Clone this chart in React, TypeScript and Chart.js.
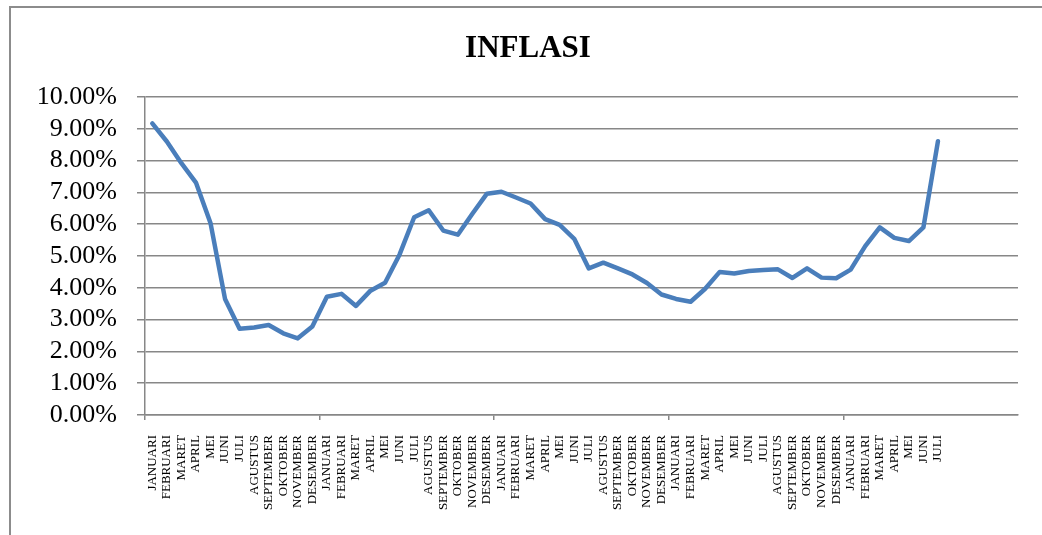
import React, { useEffect, useRef } from "react";
import { Chart, registerables } from "chart.js";

Chart.register(...registerables);

const MONTHS = [
  "JANUARI", "FEBRUARI", "MARET", "APRIL", "MEI", "JUNI",
  "JULI", "AGUSTUS", "SEPTEMBER", "OKTOBER", "NOVEMBER", "DESEMBER",
];

// 4 full years + Jan..Jul, then 5 empty categories (axis runs 5 x 12)
const categories: string[] = [
  ...MONTHS, ...MONTHS, ...MONTHS, ...MONTHS,
  "JANUARI", "FEBRUARI", "MARET", "APRIL", "MEI", "JUNI", "JULI",
  "", "", "", "", "",
];

const year1 = [9.17, 8.6, 7.92, 7.31, 6.04, 3.65, 2.71, 2.75, 2.83, 2.57, 2.41, 2.78];
const year2 = [3.72, 3.81, 3.43, 3.91, 4.16, 5.05, 6.22, 6.44, 5.8, 5.67, 6.33, 6.96];
const year3 = [7.02, 6.84, 6.65, 6.16, 5.98, 5.54, 4.61, 4.79, 4.61, 4.42, 4.15, 3.79];
const year4 = [3.65, 3.56, 3.97, 4.5, 4.45, 4.53, 4.56, 4.58, 4.31, 4.61, 4.32, 4.3];
const year5 = [4.57, 5.31, 5.9, 5.57, 5.47, 5.9, 8.61];

const inflasi: (number | null)[] = [...year1, ...year2, ...year3, ...year4, ...year5, null, null, null, null, null];

const yTicks = [0, 1, 2, 3, 4, 5, 6, 7, 8, 9, 10];
const TITLE = "INFLASI";

const GRID = "#878787";

export default function App() {
  const ref = useRef<HTMLCanvasElement | null>(null);

  useEffect(() => {
    document.body.style.margin = "0";
    const canvas = ref.current;
    if (!canvas) return;

    const decor = {
      id: "decor",
      beforeDraw(chart: any) {
        const ctx = chart.ctx;
        ctx.save();
        ctx.fillStyle = "#ffffff";
        ctx.fillRect(0, 0, chart.width, chart.height);
        ctx.strokeStyle = "#8c8c8c";
        ctx.lineWidth = 2;
        ctx.beginPath();
        ctx.moveTo(10, 545);
        ctx.lineTo(10, 7);
        ctx.lineTo(1050, 7);
        ctx.stroke();
        ctx.fillStyle = "#000000";
        ctx.font = "bold 31px 'Liberation Serif'";
        ctx.textAlign = "center";
        ctx.textBaseline = "alphabetic";
        ctx.fillText(TITLE, 528, 57);
        ctx.restore();
      },
    };

    const chart = new Chart(canvas, {
      type: "line",
      data: {
        labels: categories,
        datasets: [
          {
            label: TITLE,
            data: inflasi,
            borderColor: "#4a7ebb",
            backgroundColor: "#4a7ebb",
            borderWidth: 4.5,
            pointRadius: 0,
            tension: 0,
            borderJoinStyle: "round",
            borderCapStyle: "round",
            spanGaps: false,
          },
        ],
      },
      options: {
        animation: false,
        responsive: false,
        maintainAspectRatio: false,
        layout: { padding: { top: 97, left: 0, right: 24, bottom: 0 } },
        plugins: {
          legend: { display: false },
          title: { display: false },
          tooltip: { enabled: false },
        },
        scales: {
          x: {
            type: "category",
            offset: true,
            afterFit(scale: any) {
              scale.height = 120;
            },
            grid: {
              offset: true,
              drawOnChartArea: false,
              drawTicks: true,
              tickLength: 5,
              lineWidth: 1.5,
              color: (c: any) => (c.index % 12 === 0 ? GRID : "rgba(0,0,0,0)"),
            },
            border: { display: true, color: GRID, width: 1.5 },
            ticks: {
              autoSkip: false,
              maxRotation: 90,
              minRotation: 90,
              padding: 15,
              color: "#000000",
              font: { family: "'Liberation Serif'", size: 13 },
            },
          },
          y: {
            min: 0,
            max: 10,
            afterFit(scale: any) {
              scale.width = 145;
            },
            afterBuildTicks(scale: any) {
              scale.ticks = yTicks.map((v) => ({ value: v }));
            },
            grid: {
              color: GRID,
              lineWidth: 1.5,
              drawTicks: true,
              tickLength: 8,
            },
            border: { display: true, color: GRID, width: 1.5 },
            ticks: {
              autoSkip: false,
              padding: 20,
              color: "#000000",
              font: { family: "'Liberation Serif'", size: 26 },
              callback: (v: any) => Number(v).toFixed(2) + "%",
            },
          },
        },
      },
      plugins: [decor],
    } as any);

    return () => chart.destroy();
  }, []);

  return (
    <canvas
      ref={ref}
      width={1042}
      height={535}
      style={{ display: "block", width: 1042, height: 535 }}
    />
  );
}
